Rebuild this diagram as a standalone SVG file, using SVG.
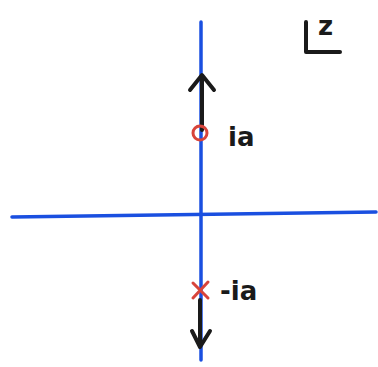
<svg xmlns="http://www.w3.org/2000/svg" width="378" height="367" viewBox="0 0 378 367">
<style>
.axis{stroke:#1a4fe0;stroke-width:3.5;stroke-linecap:round;fill:none}
.arr{stroke:#1a1a1a;stroke-width:4;stroke-linecap:round;stroke-linejoin:round;fill:none}
.pole{stroke:#d8443a;stroke-width:3;fill:none;stroke-linecap:round}
.lbl{font-family:"DejaVu Sans",sans-serif;font-weight:bold;font-size:26px;fill:#1a1a1a}
</style>
<rect width="378" height="367" fill="#fff"/>
<g id="axes">
<path class="axis" d="M201 22 L201 360"/>
<path class="axis" d="M12 217 L376 212"/>
</g>
<g id="connectors">
<path class="arr" d="M202 130 L202 76 M190 90 L202 75 L214 90"/>
<path class="arr" d="M200 300 L200 346 M192 331 L200 347 L210 331"/>
</g>
<g id="pole-ia">
<circle class="pole" cx="200" cy="133" r="7"/>
<text class="lbl" x="228" y="146">ia</text>
</g>
<g id="pole-minus-ia">
<path class="pole" d="M193 283 L208 298 M208 282 L193 298"/>
<text class="lbl" x="220" y="300">-ia</text>
</g>
<g id="z-label">
<path class="arr" d="M306 22 L306 52 L340 52"/>
<text class="lbl" x="318" y="35" font-size="22">z</text>
</g>
</svg>
